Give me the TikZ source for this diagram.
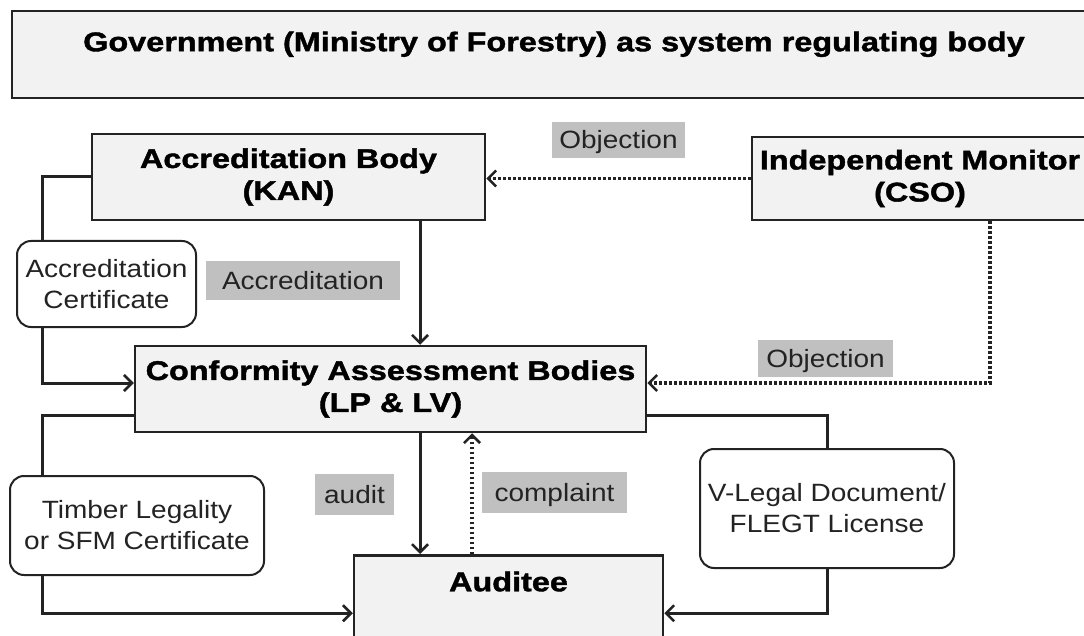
\documentclass[tikz,border=0pt]{standalone}
\usepackage{fontspec}
\setmainfont{Liberation Sans}[UprightFeatures={FakeStretch=1.12},BoldFeatures={FakeStretch=1.2,FakeBold=1.5}]
\usetikzlibrary{arrows.meta}
\definecolor{boxgray}{RGB}{242,242,242}
\definecolor{taggray}{RGB}{192,192,192}
\definecolor{inkgray}{RGB}{35,35,35}
\tikzset{
  body/.style={draw=inkgray,line width=2.5pt,fill=boxgray,align=center,inner sep=0pt,text=black,
    font=\fontsize{27}{32}\selectfont\bfseries},
  doc/.style={draw=inkgray,line width=2pt,fill=white,rounded corners=14pt,align=center,inner sep=0pt,
    text=inkgray,font=\fontsize{25}{31}\selectfont},
  tag/.style={fill=taggray,inner sep=0pt,text=inkgray,text height=18pt,text depth=0pt,
    font=\fontsize{25}{31}\selectfont},
  wire/.style={draw=inkgray,line width=3pt},
  flow/.style={wire,-{Straight Barb[length=8pt,width=16pt,line width=2.5pt]}},
  hint/.style={flow,line width=3.5pt,dash pattern=on 2.5pt off 2.5pt}
}
\begin{document}
\begin{tikzpicture}[x=1pt,y=-1pt]
\useasboundingbox (0,0) rectangle (1084,636);
\fill[white] (0,0) rectangle (1084,636);
\clip (0,0) rectangle (1084,636);
\coordinate (lx) at (42,0);
\coordinate (ax) at (420,0);
\coordinate (cx) at (472,0);
\coordinate (ox) at (990,0);

\node[body,anchor=north,minimum width=1084,text height=40,text depth=47] (gov) at (554,10)
  {Government (Ministry of Forestry) as system regulating body};
\node[body,minimum width=393,minimum height=86] (ab) at (288.5,177) {Accreditation Body\\(KAN)};
\node[body,minimum width=336,minimum height=83] (im) at (920,178.5) {Independent Monitor\\(CSO)};
\node[body,minimum width=511,minimum height=86] (cab) at (390.5,389) {Conformity Assessment Bodies\\(LP \& LV)};
\node[body,anchor=north,minimum width=309,text height=36,text depth=80] (aud) at (508.5,554) {Auditee};

\node[doc,minimum width=179,minimum height=86] (acert) at (106.5,284) {Accreditation\\Certificate};
\node[doc,minimum width=254,minimum height=99] (tcert) at (137,525.5) {Timber Legality\\or SFM Certificate};
\node[doc,minimum width=254,minimum height=119] (vleg) at (827,508.5) {V-Legal Document/\\FLEGT License};

\node[tag,minimum width=133,minimum height=36] (obj1) at (618.5,140) {Objection};
\node[tag,minimum width=135,minimum height=37] (obj2) at (825.5,358.5) {Objection};
\node[tag,minimum width=194,minimum height=39] (accr) at (303,280.5) {Accreditation};
\node[tag,minimum width=79,minimum height=41] (audit) at (354.5,494.5) {audit};
\node[tag,minimum width=145,minimum height=41] (compl) at (554.5,492.5) {complaint};

\draw[wire] (ab.west) -| (acert.north -| lx);
\draw[flow] (acert.south -| lx) |- ([yshift=6pt]cab.west);
\draw[wire] ([yshift=-26pt]cab.west) -| (tcert.north -| lx);
\draw[flow] (tcert.south -| lx) |- (aud.west);
\draw[wire] ([yshift=-26pt]cab.east) -| (vleg.north);
\draw[flow] (vleg.south) |- (aud.east);
\draw[flow] (ab.south -| ax) -- (cab.north -| ax);
\draw[flow] (cab.south -| ax) -- (aud.north -| ax);
\draw[hint] (aud.north -| cx) -- (cab.south -| cx);
\draw[hint] (im.west) -- (im.west -| ab.east);
\draw[hint] (im.south -| ox) |- ([yshift=6pt]cab.east);
\end{tikzpicture}
\end{document}
